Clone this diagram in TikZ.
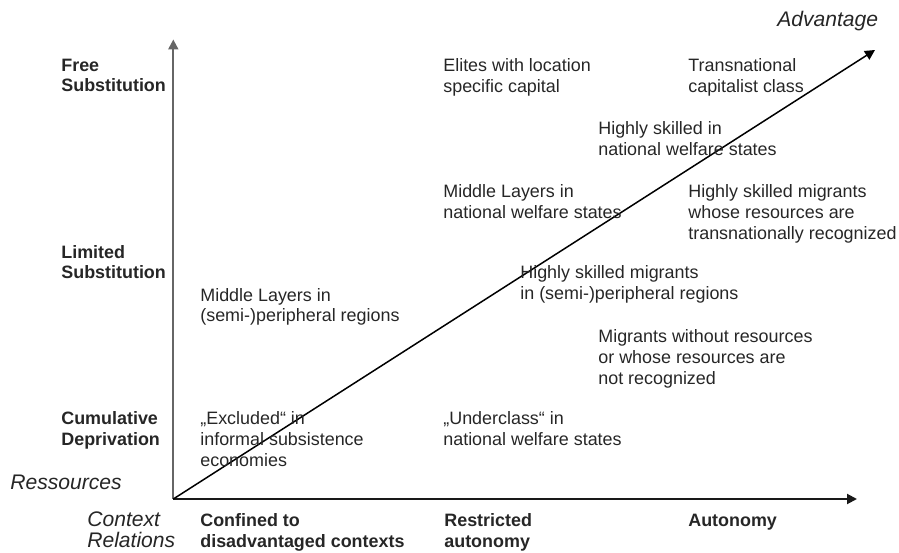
\documentclass[tikz,border=0pt]{standalone}
\usepackage{fontspec}
\setmainfont{Liberation Sans}
\usetikzlibrary{positioning,arrows.meta}
\tikzset{%
  axis/.style     = { -{Triangle[length=0.2cm, width=0.2cm]}, line width = 0.4mm, draw = #1 },
  diag/.style     = { -{Triangle[length=0.2cm, width=0.2cm]}, line width = 0.3mm, draw = black },
  cell/.style     = { anchor = base west, inner sep = 0pt, align = left, text = black!85,
                      font = \fontsize{10.2}{11.9}\selectfont },
  level/.style    = { cell, font = \fontsize{10.2}{11.9}\selectfont\bfseries },
  title/.style    = { cell, font = \fontsize{12}{11.9}\selectfont\itshape }
}

\begin{document}
\begin{tikzpicture}[x=0.02cm, y=-0.02cm]
\useasboundingbox (0,0) rectangle (899,553);

% axes (nodes sit on the baseline of their last line)
\coordinate(O) at (173.3,499);
\coordinate(Y) at (173.3,39.5);
\coordinate(X) at (857,499);
\coordinate(A) at (875,50);

\draw[axis=black!60] (O) -- (Y);
\draw[axis=black!90] (O) -- (X);
\draw[diag] (O) -- (A);

% axis titles
\node(adv)  [title] at (777,27)  {Advantage};
\node(res)  [title] at (10,490)  {Ressources};
\node(ctx)  [title] at (87,547)  {Context\\Relations};

% resource levels
\node(free) [level] at (61,92)    {Free\\Substitution};
\node(lim)  [level] at (61,279)   {Limited\\Substitution};
\node(cum)  [level] at (61,445.5) {Cumulative\\Deprivation};

% context levels
\node(conf) [level] at (200,547)  {Confined to\\disadvantaged contexts};
\node(rest) [level] at (444,547)  {Restricted\\autonomy};
\node(aut)  [level] at (688,526)  {Autonomy};

% groups
\node(elite) [cell] at (443,92.5)  {Elites with location\\specific capital};
\node(tcc)   [cell] at (688,92.5)  {Transnational\\capitalist class};
\node(hsnw)  [cell] at (598,155.5) {Highly skilled in\\national welfare states};
\node(mlnw)  [cell] at (443,218.5) {Middle Layers in\\national welfare states};
\node(hsmt)  [cell] at (688,239.5) {Highly skilled migrants\\whose resources are\\transnationally recognized};
\node(hsmp)  [cell] at (520,299.5) {Highly skilled migrants\\in (semi-)peripheral regions};
\node(mlsp)  [cell] at (200,322)   {Middle Layers in\\(semi-)peripheral regions};
\node(mig)   [cell] at (598,384.5) {Migrants without resources\\or whose resources are\\not recognized};
\node(excl)  [cell] at (200,466.5) {„Excluded“ in\\informal subsistence\\economies};
\node(under) [cell] at (443,445.5) {„Underclass“ in\\national welfare states};
\end{tikzpicture}
\end{document}
